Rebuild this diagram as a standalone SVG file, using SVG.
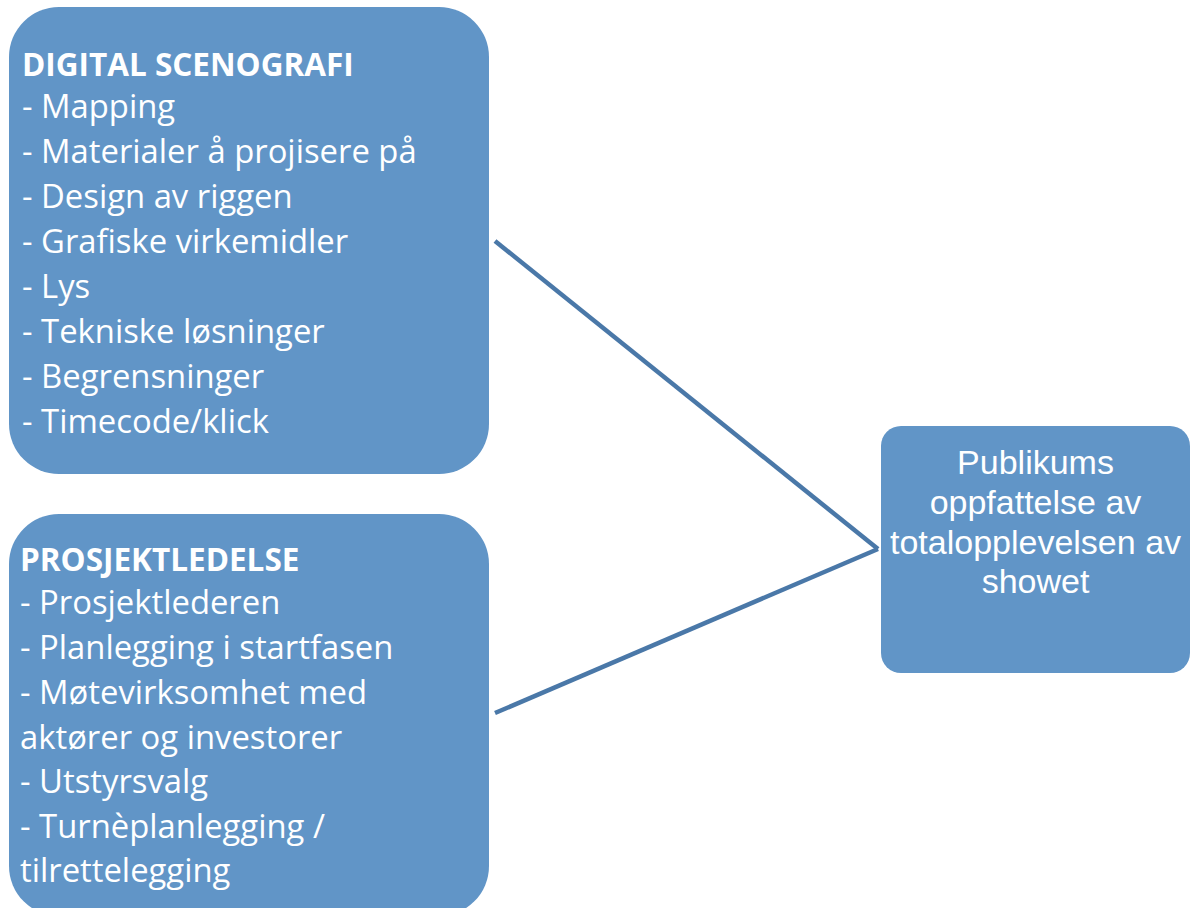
<svg xmlns="http://www.w3.org/2000/svg" width="1191" height="908" viewBox="0 0 1191 908">
<style>
.box{fill:#6195C7;}
.t{font-family:"Open Sans","Liberation Sans",sans-serif;font-size:32.8px;fill:#ffffff;}
.b{font-weight:bold;font-size:31.5px;}
.c{font-family:"Liberation Sans",Arial,sans-serif;text-anchor:middle;font-size:34px;}
.conn{stroke:#4A78A8;stroke-width:4.5;fill:none;}
</style>
<rect width="1191" height="908" fill="#ffffff"/>
<g id="connectors">
<line class="conn" x1="495" y1="241" x2="878" y2="549"/>
<line class="conn" x1="878" y1="549" x2="495" y2="713"/>
</g>
<g id="digital-scenografi">
<rect class="box" x="9" y="7" width="480" height="467" rx="50" ry="50"/>
<text class="t b" x="22" y="76">DIGITAL SCENOGRAFI</text>
<text class="t" x="22" y="118">- Mapping</text>
<text class="t" x="22" y="163">- Materialer å projisere på</text>
<text class="t" x="22" y="208">- Design av riggen</text>
<text class="t" x="22" y="253">- Grafiske virkemidler</text>
<text class="t" x="22" y="298">- Lys</text>
<text class="t" x="22" y="343">- Tekniske løsninger</text>
<text class="t" x="22" y="388">- Begrensninger</text>
<text class="t" x="22" y="433">- Timecode/klick</text>
</g>
<g id="prosjektledelse">
<rect class="box" x="9" y="514" width="480" height="402" rx="50" ry="50"/>
<text class="t b" x="20" y="571">PROSJEKTLEDELSE</text>
<text class="t" x="20" y="614">- Prosjektlederen</text>
<text class="t" x="20" y="659">- Planlegging i startfasen</text>
<text class="t" x="20" y="704">- Møtevirksomhet med</text>
<text class="t" x="20" y="749">aktører og investorer</text>
<text class="t" x="20" y="793">- Utstyrsvalg</text>
<text class="t" x="20" y="838">- Turnèplanlegging /</text>
<text class="t" x="20" y="882">tilrettelegging</text>
</g>
<g id="publikum">
<rect class="box" x="881" y="426" width="309" height="247" rx="20" ry="20"/>
<text class="t c" x="1035.5" y="474">Publikums</text>
<text class="t c" x="1035.5" y="514">oppfattelse av</text>
<text class="t c" x="1035.5" y="554">totalopplevelsen av</text>
<text class="t c" x="1035.5" y="593">showet</text>
</g>
</svg>
